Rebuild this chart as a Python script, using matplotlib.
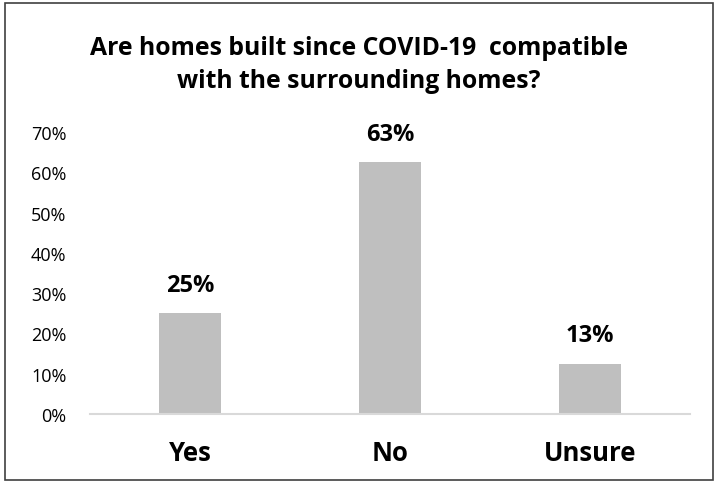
import matplotlib
matplotlib.use("Agg")
import matplotlib.pyplot as plt
from matplotlib.patches import Rectangle
from decimal import Decimal, ROUND_HALF_UP

categories = ["Yes", "No", "Unsure"]
shares = [0.25, 0.625, 0.125]
y_ticks = [0.0, 0.1, 0.2, 0.3, 0.4, 0.5, 0.6, 0.7]
title = "Are homes built since COVID-19  compatible\nwith the surrounding homes?"

plt.rcParams["font.family"] = ["Open Sans", "DejaVu Sans"]

fig = plt.figure(figsize=(7.18, 4.85), dpi=100)
ax = fig.add_axes([90 / 718, 1 - 415 / 485, 600 / 718, 282 / 485])

x = list(range(len(categories)))
ax.bar(x, shares, width=0.31, color="#BFBFBF", zorder=2)


def pct(v):
    return str(Decimal(str(v * 100)).quantize(Decimal("1"), rounding=ROUND_HALF_UP)) + "%"


for xi, v in zip(x, shares):
    ax.annotate(pct(v), (xi, v), xytext=(0, 12), textcoords="offset points",
                ha="center", va="bottom", fontsize=17, fontweight="bold",
                color="#000000")

ax.set_xlim(-0.5, 2.5)
ax.set_ylim(0, 0.7)
ax.set_yticks(y_ticks)
ax.set_yticklabels([f"{int(round(t * 100))}%" for t in y_ticks], fontsize=13)
ax.set_xticks(x)
ax.set_xticklabels(categories, fontsize=18.5, fontweight="bold")
ax.tick_params(axis="both", length=0, colors="#000000")
ax.tick_params(axis="x", pad=18)
ax.tick_params(axis="y", pad=17)
for t in ax.get_yticklabels():
    t.set_horizontalalignment("right")

for side in ("top", "right", "left"):
    ax.spines[side].set_visible(False)
ax.spines["bottom"].set_color("#D9D9D9")
ax.spines["bottom"].set_linewidth(1.5)

fig.text(0.5, 1 - 65 / 485, title, ha="center", va="center", fontsize=17.8,
         fontweight="bold", linespacing=1.45)

fig.patches.append(Rectangle((5 / 718, 4 / 485), 708 / 718, 477 / 485,
                             transform=fig.transFigure, fill=False,
                             edgecolor="#404040", linewidth=1.2))

fig.savefig("out.png", dpi=100)
